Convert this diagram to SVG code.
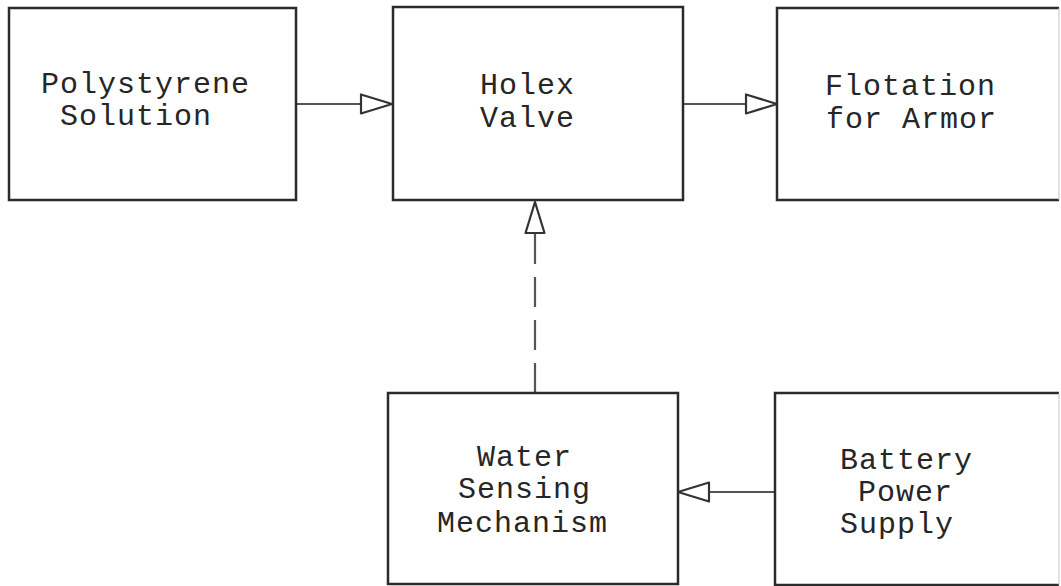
<svg xmlns="http://www.w3.org/2000/svg" width="1061" height="586" viewBox="0 0 1061 586">
<defs>
<style>
.box{fill:none;stroke:#2b2b2b;stroke-width:2.5;stroke-linejoin:miter}
.faint{fill:none;stroke:#c4c4c4;stroke-width:1}
.lbl{font-family:"Liberation Mono","DejaVu Sans Mono",monospace;font-size:30px;letter-spacing:1px;fill:#262626}
.conn{fill:none;stroke:#555;stroke-width:2.2}
.dash{stroke-dasharray:30 13}
</style>
<marker id="arr" viewBox="-34 -12 37 24" markerWidth="37" markerHeight="24" refX="0" refY="0" orient="auto" markerUnits="userSpaceOnUse">
<path d="M0,0 L-31,-9.5 L-31,9.5 Z" fill="#fff" stroke="#333" stroke-width="2.2" stroke-linejoin="round"/>
</marker>
</defs>
<rect width="1061" height="586" fill="#fff"/>
<g id="connectors">
<path class="conn" d="M296,104 L392,104" marker-end="url(#arr)"/>
<path class="conn" d="M683,104 L777,104" marker-end="url(#arr)"/>
<path class="conn" d="M775,492 L678,492" marker-end="url(#arr)"/>
<path class="conn dash" d="M535,393 L535,236"/>
<path class="conn" d="M535,236 L535,202" marker-end="url(#arr)"/>
</g>
<g id="polystyrene">
<rect class="box" x="9" y="8" width="287" height="192"/>
<text class="lbl" x="41" y="93">Polystyrene</text>
<text class="lbl" x="60" y="125">Solution</text>
</g>
<g id="holex">
<rect class="box" x="393" y="7" width="290" height="193"/>
<text class="lbl" x="480" y="94">Holex</text>
<text class="lbl" x="480" y="127">Valve</text>
</g>
<g id="flotation">
<path class="box" d="M1059,8 L777,8 L777,200 L1059,200"/>
<path class="faint" d="M1059,8 L1059,200"/>
<text class="lbl" x="825" y="95">Flotation</text>
<text class="lbl" x="826" y="128">for Armor</text>
</g>
<g id="water">
<rect class="box" x="388" y="393" width="290" height="191"/>
<text class="lbl" x="477" y="466">Water</text>
<text class="lbl" x="458" y="498">Sensing</text>
<text class="lbl" x="437" y="532">Mechanism</text>
</g>
<g id="battery">
<path class="box" d="M1059,393 L775,393 L775,585 L1059,585"/>
<path class="faint" d="M1059,393 L1059,585"/>
<text class="lbl" x="840" y="469">Battery</text>
<text class="lbl" x="858" y="501">Power</text>
<text class="lbl" x="840" y="533">Supply</text>
</g>
</svg>
